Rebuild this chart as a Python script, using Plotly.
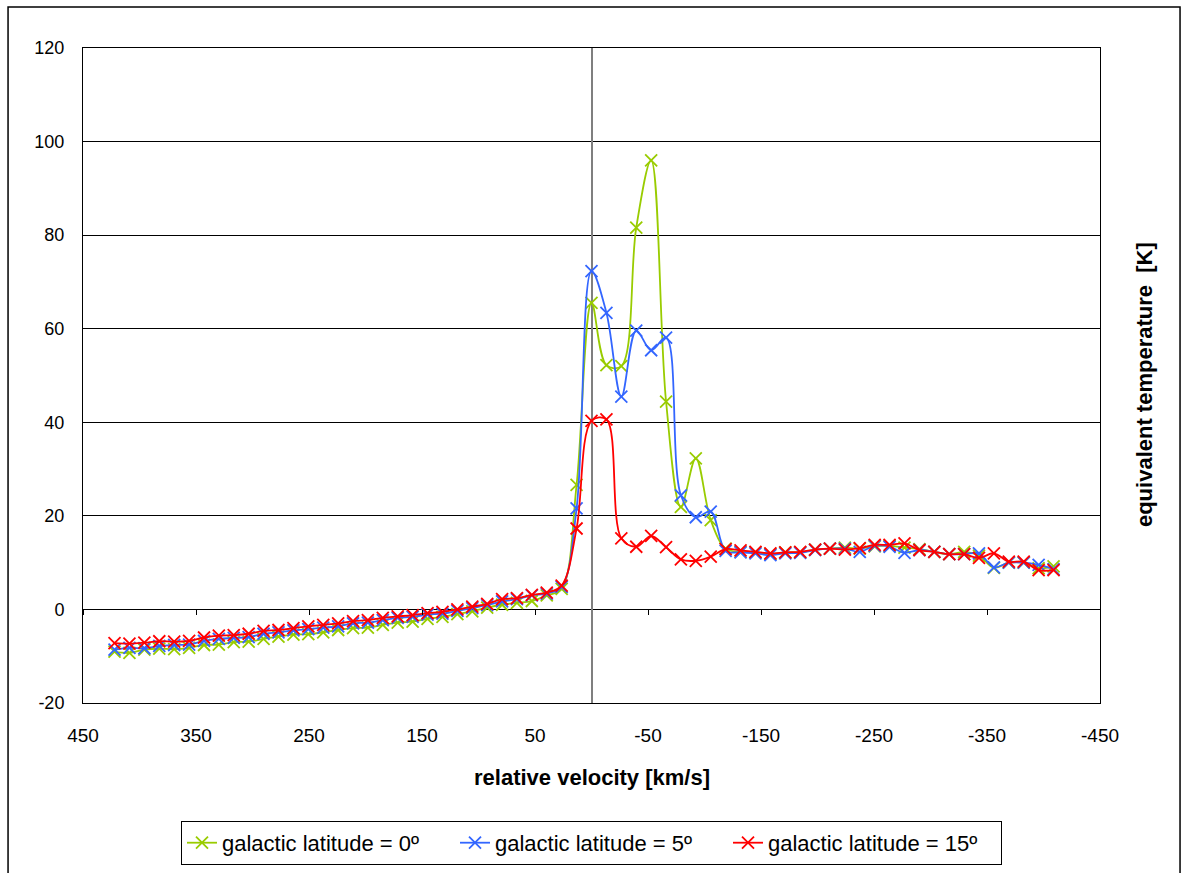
import plotly.graph_objects as go

# relative velocity channels [km/s]
velocity = [422.1, 408.9, 395.7, 382.5, 369.3, 356.1, 342.9, 329.8, 316.6, 303.4,
            290.2, 277.0, 263.8, 250.6, 237.4, 224.2, 211.0, 197.9, 184.7, 171.5,
            158.3, 145.1, 131.9, 118.7, 105.5, 92.3, 79.1, 66.0, 52.8, 39.6,
            26.4, 13.2, 0.0, -13.2, -26.4, -39.6, -52.8, -66.0, -79.1, -92.3,
            -105.5, -118.7, -131.9, -145.1, -158.3, -171.5, -184.7, -197.9, -211.0, -224.2,
            -237.4, -250.6, -263.8, -277.0, -290.2, -303.4, -316.6, -329.8, -342.9, -356.1,
            -369.3, -382.5, -395.7, -408.9]

temp_lat0 = [-9.0, -9.3, -8.6, -8.4, -8.5, -8.2, -7.6, -7.5, -7.0, -6.9,
             -6.3, -5.8, -5.4, -5.3, -4.9, -4.4, -4.0, -3.9, -3.3, -2.8,
             -2.6, -2.0, -1.6, -1.0, -0.4, 0.4, 1.0, 1.4, 1.8, 3.0,
             4.4, 26.6, 65.5, 52.2, 52.0, 81.6, 96.0, 44.4, 21.9, 32.3,
             19.1, 13.0, 12.3, 12.2, 11.8, 12.2, 12.2, 12.8, 13.0, 13.2,
             13.0, 13.5, 13.6, 13.2, 12.9, 12.3, 11.8, 12.3, 11.5, 8.9,
             10.0, 10.0, 8.8, 9.2]

temp_lat5 = [-8.6, -8.2, -8.3, -7.8, -7.6, -7.5, -6.7, -6.3, -6.1, -5.9,
             -5.2, -4.9, -4.5, -4.2, -3.9, -3.6, -3.0, -2.8, -2.3, -1.8,
             -1.6, -1.1, -0.9, -0.3, 0.3, 0.9, 1.7, 2.2, 3.0, 3.4,
             4.8, 21.6, 72.3, 63.4, 45.5, 59.6, 55.4, 58.1, 24.4, 19.7,
             20.9, 12.5, 12.2, 12.0, 11.6, 12.0, 12.1, 12.7, 13.0, 13.0,
             12.3, 13.6, 13.4, 12.1, 12.7, 12.3, 11.8, 11.8, 12.0, 9.0,
             10.0, 10.0, 9.5, 8.6]

temp_lat15 = [-7.2, -7.3, -7.1, -6.8, -6.9, -6.7, -6.0, -5.6, -5.5, -5.2,
              -4.6, -4.4, -4.0, -3.6, -3.3, -3.0, -2.5, -2.3, -1.8, -1.5,
              -1.2, -0.8, -0.5, 0.0, 0.6, 1.2, 2.2, 2.4, 3.1, 3.6,
              5.1, 17.3, 40.3, 40.6, 15.2, 13.4, 15.7, 13.3, 10.7, 10.4,
              11.3, 12.9, 12.6, 12.3, 12.0, 12.2, 12.3, 12.8, 13.0, 12.8,
              13.1, 13.8, 13.8, 14.1, 12.7, 12.3, 11.8, 11.8, 11.0, 12.0,
              10.2, 10.2, 8.4, 8.4]

series_names = ["galactic latitude = 0º", "galactic latitude = 5º", "galactic latitude = 15º"]
series_colors = ["#99cc00", "#3366ff", "#ff0000"]

x_tick_vals = [450, 350, 250, 150, 50, -50, -150, -250, -350, -450]
x_tick_text = ["450", "350", "250", "150", "50", "-50", "-150", "-250", "-350", "-450"]
y_tick_vals = [-20, 0, 20, 40, 60, 80, 100, 120]
y_tick_text = ["-20", "0", "20", "40", "60", "80", "100", "120"]

FONT = "Arial, 'Liberation Sans', sans-serif"

fig = go.Figure()
for name, ys, col in zip(series_names, [temp_lat0, temp_lat5, temp_lat15], series_colors):
    fig.add_trace(go.Scatter(
        x=velocity, y=ys, name=name, mode="lines+markers",
        line=dict(color=col, width=1.8, shape="spline", smoothing=1),
        marker=dict(symbol="x-thin", size=12, color=col, line=dict(color=col, width=1.8)),
    ))

# helper trace for tick marks on the y=0 crossing axis
fig.add_trace(go.Scatter(x=[], y=[], xaxis="x2", showlegend=False, hoverinfo="skip"))

fig.update_layout(
    width=1187, height=873,
    margin=dict(l=83, r=87, t=48, b=170, autoexpand=False),
    paper_bgcolor="white", plot_bgcolor="white",
    font=dict(family=FONT, size=18, color="black"),
    showlegend=True,
    xaxis=dict(
        range=[450, -450], tickvals=x_tick_vals, ticktext=x_tick_text,
        showgrid=False, zeroline=True, zerolinecolor="#7f7f7f", zerolinewidth=1.5,
        showline=True, mirror=True, linecolor="black", linewidth=1,
        ticks="", ticklabelstandoff=15, tickfont=dict(size=19),
    ),
    xaxis2=dict(
        overlaying="x", anchor="free", position=20 / 140, side="bottom",
        range=[450, -450], tickvals=x_tick_vals, showticklabels=False,
        ticks="outside", ticklen=5, tickcolor="black", tickwidth=1,
        showgrid=False, zeroline=False, showline=False,
    ),
    yaxis=dict(
        range=[-20, 120], tickvals=y_tick_vals, ticktext=y_tick_text,
        showgrid=True, gridcolor="black", gridwidth=1, zeroline=False,
        showline=True, mirror=True, linecolor="black", linewidth=1,
        ticks="", ticklabelstandoff=14, tickfont=dict(size=18),
    ),
    legend=dict(
        orientation="h", x=0.5, xanchor="center", y=-0.18, yanchor="top",
        bordercolor="black", borderwidth=1, bgcolor="white",
        font=dict(size=22), itemwidth=30, entrywidth=228,
    ),
    annotations=[
        dict(text="<b>relative velocity [km/s]</b>", xref="paper", yref="paper",
             x=0.5, y=-0.113, xanchor="center", yanchor="middle", showarrow=False,
             font=dict(size=22)),
        dict(text="<b>equivalent temperature  [K]</b>", xref="paper", yref="paper",
             x=1.0443, y=0.4855, xanchor="center", yanchor="middle", showarrow=False,
             textangle=-90, font=dict(size=22)),
    ],
    shapes=[
        dict(type="rect", xref="paper", yref="paper", x0=-0.0737, x1=1.0787,
             y0=-0.30, y1=1.0626, line=dict(color="black", width=1.5), fillcolor="rgba(0,0,0,0)"),
    ],
)

fig.write_html("out.html", config={"displayModeBar": False},
               post_script="document.body.style.margin='0';")
